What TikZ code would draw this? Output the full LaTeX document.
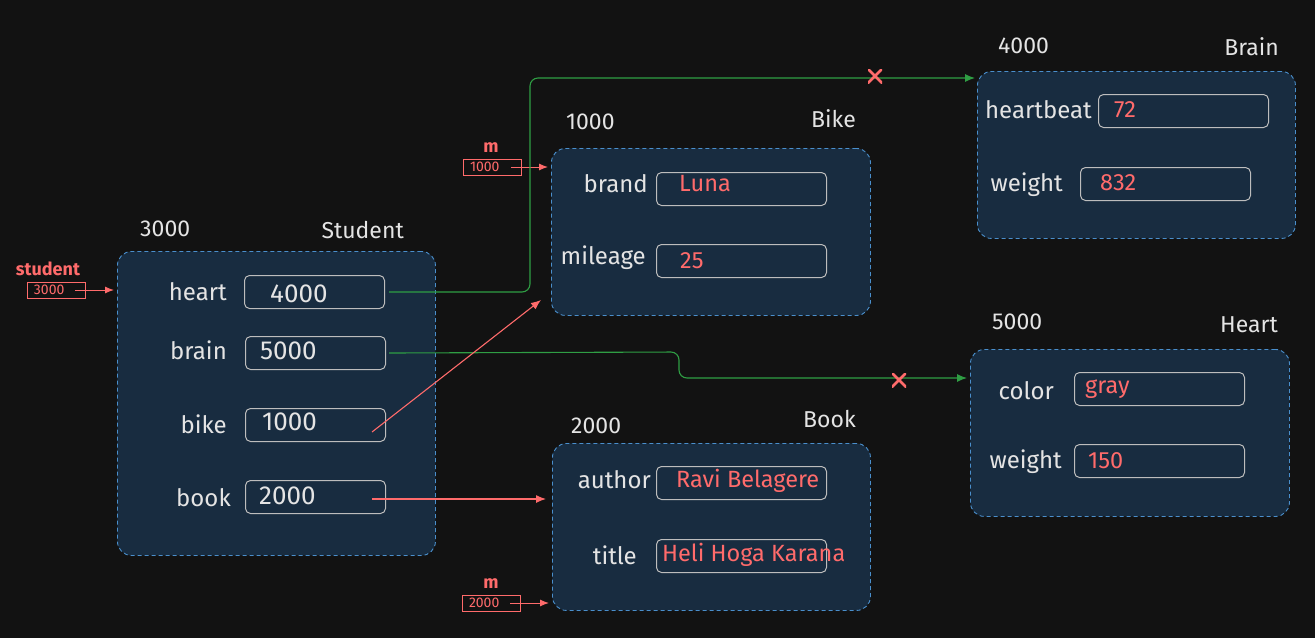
\documentclass[tikz,border=0pt]{standalone}
\usepackage{fontspec}
\setmainfont{Fira Sans}
\usetikzlibrary{arrows.meta,calc}
\definecolor{bg}{HTML}{121212}
\definecolor{objfill}{HTML}{182C40}
\definecolor{objline}{HTML}{4A8FCC}
\definecolor{fieldline}{HTML}{BDBDBD}
\definecolor{txt}{HTML}{E4E4E4}
\definecolor{accred}{HTML}{FF6B6B}
\definecolor{grn}{HTML}{2F9E44}
\tikzset{
  objbox/.style={draw=objline, fill=objfill, dashed, dash pattern=on 4pt off 3pt, line width=0.9pt, rounded corners=14pt, anchor=north west, inner sep=0pt},
  fld/.style={draw=fieldline, line width=1pt, rounded corners=5pt, minimum height=33pt, minimum width=170pt, anchor=north west, inner sep=0pt},
  ttl/.style={text=txt, font=\fontsize{23}{27}\selectfont, inner sep=0pt},
  lbl/.style={text=txt, font=\fontsize{24}{28}\selectfont, inner sep=0pt, anchor=east},
  val/.style={text=txt, font=\fontsize{26}{30}\selectfont, inner sep=0pt, anchor=west},
  rval/.style={text=accred, font=\fontsize{23.5}{27}\selectfont, inner sep=0pt, anchor=west},
  ptrbox/.style={draw=accred, line width=0.8pt, minimum width=58pt, minimum height=16pt, inner sep=0pt, text=accred, font=\fontsize{14}{16}\selectfont, text width=44pt, align=left},
  ptrname/.style={text=accred, font=\bfseries\fontsize{18}{20}\selectfont, inner sep=0pt},
  ptrarrow/.style={draw=accred, line width=1pt, -{Latex[length=9pt,width=7pt]}},
  grnarrow/.style={draw=grn, line width=1.1pt, rounded corners=8pt, -{Latex[length=10pt,width=8pt]}},
  redarrow/.style={draw=accred, line width=1.1pt, -{Latex[length=10pt,width=8pt]}},
  xmark/.style={minimum size=14pt, inner sep=0pt, path picture={
     \draw[accred, line width=2.8pt, line cap=round]
       (path picture bounding box.north west) -- (path picture bounding box.south east)
       (path picture bounding box.north east) -- (path picture bounding box.south west);}},
}
\begin{document}
\begin{tikzpicture}[x=1pt,y=-1pt]
\fill[bg] (0,0) rectangle (1315,638);
\useasboundingbox (0,0) rectangle (1315,638);

% ---------- Student (3000)
\node[objbox, minimum width=318pt, minimum height=304pt] (student) at (117,251) {};
\node[ttl, anchor=west] (studaddr) at (140,229) {3000};
\node[ttl, anchor=east] (studname) at (404,230) {Student};
\node[fld, minimum width=140pt] (heartv) at (244,275) {};
\node[fld, minimum width=140pt] (brainv) at (245,336) {};
\node[fld, minimum width=140pt] (bikev) at (245,408) {};
\node[fld, minimum width=140pt] (bookv) at (245,480) {};
\node[lbl] (heartl) at (227,292) {heart};
\node[lbl] (brainl) at (227,350) {brain};
\node[lbl] (bikel) at (227,424) {bike};
\node[lbl] (bookl) at (231,498) {book};
\node[val] (heartt) at (270,294) {4000};
\node[val] (braint) at (260,351) {5000};
\node[val] (biket) at (262,422) {1000};
\node[val] (bookt) at (259,496) {2000};

% ---------- Bike (1000)
\node[objbox, minimum width=319pt, minimum height=167pt] (bike) at (551,148) {};
\node[ttl, anchor=west] (bikeaddr) at (566,122) {1000};
\node[ttl, anchor=east] (bikename) at (856,119) {Bike};
\node[fld] (brandv) at (656,172) {};
\node[fld] (mileagev) at (656,244) {};
\node[lbl] (brandl) at (648,184) {brand};
\node[lbl] (mileagel) at (646,258) {mileage};
\node[rval] (brandt) at (679,184) {Luna};
\node[rval] (mileaget) at (680,261) {25};

% ---------- Brain (4000)
\node[objbox, minimum width=318pt, minimum height=167pt] (brain) at (977,71) {};
\node[ttl, anchor=west] (brainaddr) at (998,46) {4000};
\node[ttl, anchor=east] (brainname) at (1279,47) {Brain};
\node[fld] (hbv) at (1098,94) {};
\node[fld] (bwv) at (1080,167) {};
\node[lbl] (hbl) at (1092,110) {heartbeat};
\node[lbl] (bwl) at (1063,185) {weight};
\node[rval] (hbt) at (1114,110) {72};
\node[rval] (bwt) at (1100,183) {832};

% ---------- Heart (5000)
\node[objbox, minimum width=319pt, minimum height=167pt] (heart) at (970,349) {};
\node[ttl, anchor=west] (heartaddr) at (992,322) {5000};
\node[ttl, anchor=east] (heartname) at (1278,325) {Heart};
\node[fld] (colv) at (1074,372) {};
\node[fld] (hwv) at (1074,444) {};
\node[lbl] (coll) at (1054,391) {color};
\node[lbl] (hwl) at (1062,462) {weight};
\node[rval] (colt) at (1085,389) {gray};
\node[rval] (hwt) at (1088,461) {150};

% ---------- Book (2000)
\node[objbox, minimum width=318pt, minimum height=167pt] (book) at (552,443) {};
\node[ttl, anchor=west] (bookaddr) at (571,426) {2000};
\node[ttl, anchor=east] (bookname) at (856,419) {Book};
\node[fld] (authv) at (656,466) {};
\node[fld] (titlev) at (656,539) {};
\node[lbl] (authl) at (651,480) {author};
\node[lbl] (titlel) at (637,555) {title};
\node[rval] (autht) at (676,481) {Ravi Belagere};
\node[rval] (titlet) at (662,555) {Heli Hoga Karana};

% ---------- pointers
\node[ptrname] (pstud) at (48,269) {student};
\node[ptrbox] (pstudbox) at (56,290) {3000};
\node[ptrname] (pm1) at (491,148) {m};
\node[ptrbox] (pm1box) at (492,167) {1000};
\node[ptrname] (pm2) at (491,584) {m};
\node[ptrbox] (pm2box) at (491,603) {2000};

\coordinate (ps1) at ($(pstudbox.east)+(-10,0)$);
\coordinate (ps2) at ($(pm1box.east)+(-10,0)$);
\coordinate (ps3) at ($(pm2box.east)+(-10,0)$);
\draw[ptrarrow] (ps1) -- ($(student.west |- ps1)+(-3,0)$);
\draw[ptrarrow] (ps2) -- ($(bike.west |- ps2)+(-3,0)$);
\draw[ptrarrow] (ps3) -- ($(book.west |- ps3)+(-3,0)$);

% ---------- references
\coordinate (hs) at ($(heartv.east)+(4,0)$);
\coordinate (hb1) at (530,292);
\coordinate (hb2) at (530,78);
\draw[grnarrow] (hs) -- (hb1) -- (hb2) -- ($(brain.west |- hb2)+(-2,0)$);
\node[xmark] (x1) at (875,76) {};

\coordinate (bs) at ($(brainv.east)+(3,0)$);
\coordinate (bb1) at (679,352);
\coordinate (bb2) at (679,378);
\draw[grnarrow] (bs) -- (bb1) -- (bb2) -- ($(heart.west |- bb2)+(-3,0)$);
\node[xmark] (x2) at (899,380) {};

\coordinate (bks) at (372,432);
\coordinate (bke) at (541,300);
\draw[redarrow] (bks) -- (bke);
\coordinate (bos) at (372,499);
\draw[redarrow] (bos) -- ($(book.west |- bos)+(-6,0)$);
\end{tikzpicture}
\end{document}
